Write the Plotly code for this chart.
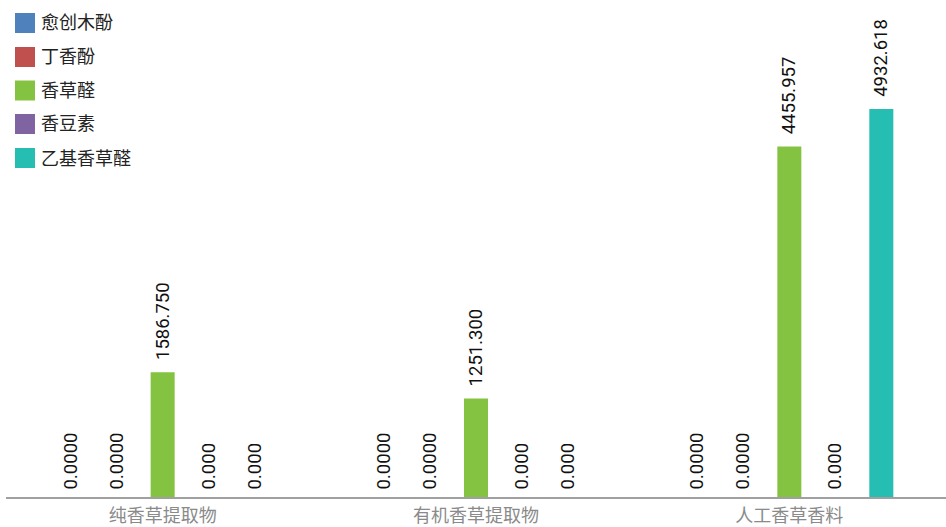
import plotly.graph_objects as go

# Categories and series values
categories = ["纯香草提取物", "有机香草提取物", "人工香草香料"]
series_names = ["愈创木酚", "丁香酚", "香草醛", "香豆素", "乙基香草醛"]
guaiacol = [0.0, 0.0, 0.0]
eugenol = [0.0, 0.0, 0.0]
vanillin = [1586.750, 1251.300, 4455.957]
coumarin = [0.0, 0.0, 0.0]
ethyl_vanillin = [0.0, 0.0, 4932.618]

series_values = [guaiacol, eugenol, vanillin, coumarin, ethyl_vanillin]
series_colors = ["#4f81bd", "#c0504d", "#84c341", "#8064a2", "#26bdb3"]
label_decimals = [4, 4, 3, 3, 3]

W, H = 946, 527
ML, MR, MT, MB = 6, 0, 0, 30
PW, PH = W - ML - MR, H - MT - MB

FONT = "Roboto, Noto Sans CJK SC, sans-serif"
NBSP = "\u00a0"


def bar_label(value, decimals):
    # a little extra breathing room between the bar end and its rotated label
    pad = NBSP * (2 if value > 0 else 1)
    return f"{pad}{value:.{decimals}f}"


fig = go.Figure()
for name, vals, color, dec in zip(series_names, series_values, series_colors, label_decimals):
    fig.add_trace(go.Bar(
        name=name,
        x=categories,
        y=vals,
        marker=dict(color=color, line=dict(width=0)),
        text=[bar_label(v, dec) for v in vals],
        textposition="outside",
        textangle=-90,
        constraintext="none",
        cliponaxis=False,
        textfont=dict(family=FONT, size=18.5, color="#111111"),
        showlegend=False,
        hoverinfo="x+y+name",
    ))

# Legend drawn as colored squares with labels in the top-left corner
def px_x(px):
    return (px - ML) / PW


def px_y(py):
    return 1 - (py - MT) / PH


shapes = []
annotations = []
row_centers = [23, 57, 90.5, 124, 158]
for name, color, cy in zip(series_names, series_colors, row_centers):
    shapes.append(dict(
        type="rect", xref="paper", yref="paper",
        x0=px_x(15), x1=px_x(35), y0=px_y(cy + 10), y1=px_y(cy - 10),
        fillcolor=color, line=dict(width=0), layer="above",
    ))
    annotations.append(dict(
        xref="paper", yref="paper", x=px_x(39), y=px_y(cy),
        xanchor="left", yanchor="middle", showarrow=False,
        text=name, font=dict(family=FONT, size=18, color="#222222"),
    ))

fig.update_layout(
    width=W, height=H,
    margin=dict(l=ML, r=MR, t=MT, b=MB),
    paper_bgcolor="white", plot_bgcolor="white",
    barmode="group",
    bargap=0.266,
    bargroupgap=0.478,
    shapes=shapes,
    annotations=annotations,
    xaxis=dict(
        showline=True, linecolor="#a0a0a0", linewidth=1.5,
        showgrid=False, zeroline=False, ticks="",
        ticklabelstandoff=2,
        tickfont=dict(family=FONT, size=18, color="#8a8a8a"),
    ),
    yaxis=dict(
        range=[0, 6318], visible=False, showgrid=False, zeroline=False,
    ),
)

fig.write_html("out.html")
